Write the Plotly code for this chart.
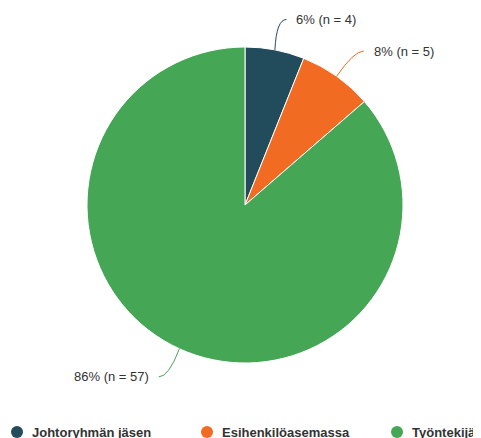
import math
import plotly.graph_objects as go

categories = ["Johtoryhmän jäsen", "Esihenkilöasemassa", "Työntekijä"]
counts = [4, 5, 57]
colors = ["#224b5b", "#f26b23", "#45a655"]

OFF = 8  # page body margin offset
W, H = 481 - OFF, 438 - OFF
CX, CY, R = 245 - OFF, 205 - OFF, 158
DIST_X, DIST_Y = 40, 31

fig = go.Figure()
fig.add_trace(go.Pie(
    labels=categories, values=counts, sort=False, direction="clockwise", rotation=0,
    marker=dict(colors=colors, line=dict(color="white", width=1)),
    textinfo="none", hoverinfo="label+value+percent", showlegend=False,
    domain=dict(x=[(CX - R) / W, (CX + R) / W], y=[(H - CY - R) / H, (H - CY + R) / H]),
))

def px2paper(x, y):
    return x / W, 1 - y / H

total = sum(counts)
cum = 0
annotations = []
shapes = []
for cat, n, col in zip(categories, counts, colors):
    mid = (cum + n / 2) / total * 2 * math.pi
    cum += n
    sx, sy = math.sin(mid), -math.cos(mid)
    ex, ey = CX + R * sx, CY + R * sy
    px, py = CX + (R + DIST_X) * sx, CY + (R + DIST_Y) * sy
    side = 1 if sx >= 0 else -1
    endx = px + 4 * side
    pct = round(n / total * 100)
    tx, ty = px2paper(endx + 8 * side, py)
    annotations.append(dict(
        x=tx, y=ty, xref="paper", yref="paper", showarrow=False,
        text=f"{pct}% (n = {n})", xanchor="left" if side > 0 else "right", yanchor="middle",
        font=dict(size=13, color="#333333"),
    ))
    p0 = px2paper(ex, ey)
    pc = px2paper(px - 6 * side, py)
    p1 = px2paper(endx, py)
    shapes.append(dict(
        type="path", xref="paper", yref="paper",
        path=f"M {p0[0]},{p0[1]} Q {pc[0]},{pc[1]} {p1[0]},{p1[1]}",
        line=dict(color=col, width=1),
    ))

# legend row
leg_x = [17 - OFF, 207 - OFF, 397 - OFF]
leg_y = 432 - OFF
for cat, col, lx in zip(categories, colors, leg_x):
    shapes.append(dict(
        type="circle", xref="paper", yref="paper",
        x0=(lx - 6) / W, x1=(lx + 6) / W, y0=1 - (leg_y + 6) / H, y1=1 - (leg_y - 6) / H,
        fillcolor=col, line=dict(width=0),
    ))
    tx, ty = px2paper(lx + 13, leg_y)
    annotations.append(dict(
        x=tx, y=ty, xref="paper", yref="paper", showarrow=False,
        text=f"<b>{cat}</b>", xanchor="left", yanchor="middle",
        font=dict(size=13, color="#333333"),
    ))

fig.update_layout(
    width=W, height=H, margin=dict(l=0, r=0, t=0, b=0),
    paper_bgcolor="white", plot_bgcolor="white",
    font=dict(family="Liberation Sans, Arial, sans-serif"),
    annotations=annotations, shapes=shapes,
)
fig.write_html("out.html")
